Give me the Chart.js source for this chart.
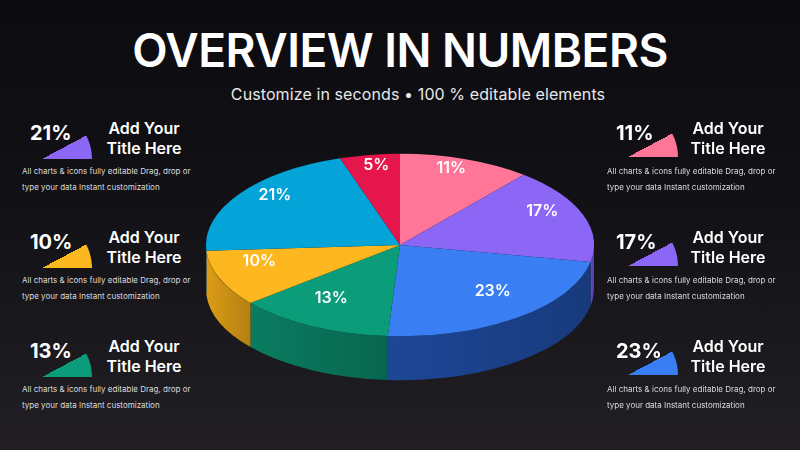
<!DOCTYPE html>
<html>
<head>
  <title>Overview in Numbers</title>
  <script src="https://cdn.jsdelivr.net/npm/chart.js"></script>
  <style>
    body { margin: 0; width: 800px; height: 450px; overflow: hidden; font-family: Inter, 'Noto Sans', Arial, sans-serif; color: white;
      background: linear-gradient(180deg, #0c0b0f 0%, #121115 45%, #211f23 100%); position: relative; }
    .title { position: absolute; left: 0; width: 800px; top: 22px; text-align: center; font-size: 46px; font-weight: 600; letter-spacing: -0.5px; }
    .sub { position: absolute; left: 18px; width: 800px; top: 84px; text-align: center; font-size: 16px; color: #e8e8ea; letter-spacing: 0.1px; }
    .pie-box { position: absolute; left: 206px; top: 51px; width: 388px; height: 388px; }
    .card { position: absolute; width: 200px; height: 100px; }
    .pct { position: absolute; top: 0; font-size: 20px; font-weight: 700; }
    .wedge { position: absolute; width: 100px; height: 100px; border-radius: 50%; }
    .head { position: absolute; top: -3px; font-size: 16px; font-weight: 600; line-height: 20px; text-align: center; }
    .desc { position: absolute; top: 42px; font-size: 8px; line-height: 16px; color: #dcdcde; white-space: nowrap; }
  </style>
</head>
<body>
  <div class="title">OVERVIEW IN NUMBERS</div>
  <div class="sub">Customize in seconds &bull; 100 % editable elements</div>
  <div class="pie-box"><canvas id="pieChart"></canvas></div>
  <div id="cards"></div>

  <script>
    // pie data, clockwise from 12 o'clock
    const segments = ['Pink', 'Purple', 'Blue', 'Green', 'Yellow', 'Cyan', 'Red'];
    const shares = [11, 17, 23, 13, 10, 21, 5];
    const topColors = ['#ff7699', '#8c66f4', '#3a7ef3', '#0b9c7a', '#fdb71f', '#04a3d8', '#e4164c'];
    const sideColors = ['#c9557a', '#6a48c8', '#1d4797', '#0a7c60', '#dc9c16', '#0383ad', '#b01038'];

    // side cards
    const leftValues = [21, 10, 13];
    const leftColors = ['#8c66f4', '#fdb71f', '#0b9c7a'];
    const rightValues = [11, 17, 23];
    const rightColors = ['#ff7699', '#8c66f4', '#3a7ef3'];
    const cardTitle = 'Add Your<br>Title Here';
    const cardText = 'All charts &amp; icons fully editable Drag, drop or<br>type your data Instant customization';

    const tilt = 0.47;   // vertical squash of the pie face
    const depth = 44;    // thickness of the pie edge in px

    function wedge(color, left, top) {
      return '<div class="wedge" style="left:' + left + 'px;top:' + top + 'px;background:conic-gradient(from 62deg, ' +
        color + ' 0deg 28deg, transparent 28deg)"></div>';
    }

    function buildCards() {
      let html = '';
      leftValues.forEach((v, i) => {
        const top = 121 + i * 109;
        html += '<div class="card" style="left:0;top:' + top + 'px">' + wedge(leftColors[i], -8, -12) +
          '<div class="pct" style="left:30px">' + v + '%</div>' +
          '<div class="head" style="left:100px;width:88px">' + cardTitle + '</div>' +
          '<div class="desc" style="left:22px">' + cardText + '</div></div>';
      });
      rightValues.forEach((v, i) => {
        const top = 121 + i * 109;
        html += '<div class="card" style="left:590px;top:' + top + 'px">' + wedge(rightColors[i], -12, -14) +
          '<div class="pct" style="left:26px">' + v + '%</div>' +
          '<div class="head" style="left:94px;width:88px">' + cardTitle + '</div>' +
          '<div class="desc" style="left:17px">' + cardText + '</div></div>';
      });
      document.getElementById('cards').innerHTML = html;
    }
    buildCards();

    function shade(hex, amt) {
      const n = parseInt(hex.slice(1), 16);
      const f = c => Math.max(0, Math.min(255, Math.round(c + c * amt)));
      return 'rgb(' + f(n >> 16) + ',' + f((n >> 8) & 255) + ',' + f(n & 255) + ')';
    }

    // squash the pie into an ellipse and give it a visible edge
    const pie3d = {
      id: 'pie3d',
      beforeDatasetsDraw(chart) {
        const ctx = chart.ctx;
        const arcs = chart.getDatasetMeta(0).data;
        const cx = arcs[0].x, cy = arcs[0].y, r = arcs[0].outerRadius;
        ctx.save();
        arcs.forEach((arc, i) => {
          const s = Math.max(arc.startAngle, 0);
          const e = Math.min(arc.endAngle, Math.PI);
          if (s >= e) return;
          const x1 = cx + r * Math.cos(e), x2 = cx + r * Math.cos(s);
          const g = ctx.createLinearGradient(Math.min(x1, x2), 0, Math.max(x1, x2), 0);
          g.addColorStop(0, sideColors[i]);
          g.addColorStop(1, shade(sideColors[i], -0.18));
          ctx.beginPath();
          ctx.ellipse(cx, cy, r, r * tilt, 0, s, e);
          ctx.ellipse(cx, cy + depth, r, r * tilt, 0, e, s, true);
          ctx.closePath();
          ctx.fillStyle = g;
          ctx.fill();
        });
        ctx.restore();
        ctx.save();
        ctx.translate(cx, cy);
        ctx.scale(1, tilt);
        ctx.translate(-cx, -cy);
      },
      afterDatasetsDraw(chart) {
        const ctx = chart.ctx;
        ctx.restore();
        const arcs = chart.getDatasetMeta(0).data;
        ctx.save();
        ctx.fillStyle = '#ffffff';
        ctx.font = '600 16px Inter, sans-serif';
        ctx.textAlign = 'center';
        ctx.textBaseline = 'middle';
        arcs.forEach((arc, i) => {
          const mid = (arc.startAngle + arc.endAngle) / 2;
          const rr = arc.outerRadius * 0.78;
          const x = arc.x + rr * Math.cos(mid);
          const y = arc.y - 10 + rr * Math.sin(mid) * tilt;
          ctx.fillText(shares[i] + '%', x, y);
        });
        ctx.restore();
      }
    };

    new Chart(document.getElementById('pieChart').getContext('2d'), {
      type: 'pie',
      data: {
        labels: segments,
        datasets: [{
          data: shares,
          backgroundColor: topColors,
          borderWidth: 0
        }]
      },
      options: {
        responsive: true,
        maintainAspectRatio: false,
        animation: false,
        layout: { padding: 0 },
        plugins: { legend: { display: false }, tooltip: { enabled: false } }
      },
      plugins: [pie3d]
    });
  </script>
</body>
</html>
